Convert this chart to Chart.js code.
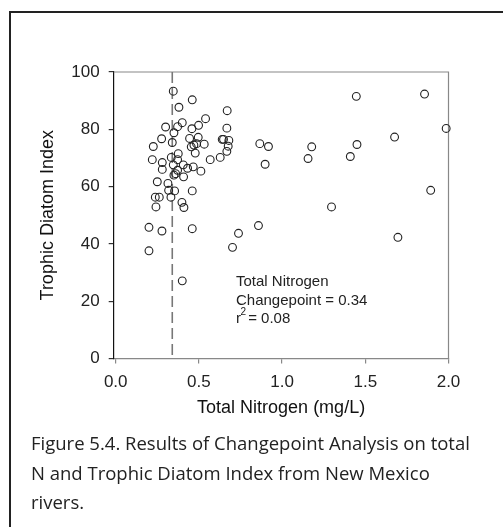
<!DOCTYPE html>
<html>
<head>
<meta charset="utf-8">
<script src="https://cdn.jsdelivr.net/npm/chart.js@4"></script>
<style>
  body { margin: 0; background: #fff; }
  #page { position: relative; width: 503px; height: 527px; overflow: hidden; }
  #frame {
    position: absolute; left: 9px; top: 11px; width: 600px; height: 600px;
    border-left: 2px solid #222; border-top: 2px solid #222;
  }
  #chart { position: absolute; left: 0; top: 0; }
  #caption {
    position: absolute; left: 31px; top: 428px; width: 470px;
    font-family: 'Open Sans', 'Noto Sans', sans-serif; font-size: 18.5px;
    line-height: 29.5px; color: #222; white-space: nowrap;
  }
</style>
</head>
<body>
<div id="page">
  <div id="frame"></div>
  <canvas id="chart" width="503" height="430"></canvas>
  <div id="caption">Figure 5.4. Results of Changepoint Analysis on total<br>N and Trophic Diatom Index from New Mexico<br>rivers.</div>
</div>
<script>
// Total nitrogen (mg/L) and Trophic Diatom Index for each site
const nitrogen = [
  0.346, 0.46, 0.38, 0.670, 0.54, 0.40, 0.498, 0.372, 0.30, 0.458,
  0.668, 0.35, 0.276, 0.444, 0.496, 0.34, 0.640, 0.648, 0.680, 0.226,
  0.454, 0.47, 0.486, 0.532, 0.676, 0.478, 0.376, 0.668, 0.334, 0.628,
  0.220, 0.372, 0.568, 0.28, 0.346, 0.406, 0.466, 0.432, 0.28, 0.372,
  0.512, 0.350, 0.360, 0.408, 0.25, 0.314, 0.318, 0.354, 0.46, 0.332,
  0.238, 0.262, 0.242, 0.398, 0.41, 0.20, 0.278, 0.46, 0.738, 0.702,
  0.20, 0.40, 1.446, 1.856, 1.986, 1.676, 0.866, 0.918, 1.178, 1.45,
  0.898, 1.156, 1.41, 1.893, 1.297, 0.858, 1.696
];
const diatomIndex = [
  93.3, 90.3, 87.7, 86.5, 83.7, 82.3, 81.4, 80.9, 80.8, 80.2,
  80.4, 78.8, 76.7, 76.8, 77.2, 75.4, 76.5, 76.5, 76.1, 74.0,
  73.9, 74.5, 75.0, 74.8, 74.1, 71.7, 71.5, 72.3, 70.2, 70.2,
  69.4, 69.4, 69.4, 68.4, 67.6, 67.6, 66.9, 66.4, 66.0, 65.7,
  65.4, 64.0, 64.5, 63.4, 61.7, 61.1, 58.7, 58.5, 58.5, 56.3,
  56.3, 56.3, 52.9, 54.5, 52.7, 45.8, 44.5, 45.3, 43.7, 38.8,
  37.6, 27.1, 91.5, 92.3, 80.3, 77.3, 75.0, 74.0, 73.9, 74.7,
  67.8, 69.8, 70.5, 58.7, 52.9, 46.4, 42.3
];

const xTicks = [0, 0.5, 1.0, 1.5, 2.0];
const yTicks = [0, 20, 40, 60, 80, 100];

const changepoint = 0.34;
const rSquared = 0.08;

const textFont = "'Liberation Sans', Arial, sans-serif";

// Light frame on the top and right of the plot box
const boxPlugin = {
  id: 'box',
  beforeDatasetsDraw(chart) {
    const { ctx, chartArea: a } = chart;
    ctx.save();
    ctx.strokeStyle = '#888';
    ctx.lineWidth = 1.2;
    ctx.beginPath();
    ctx.moveTo(a.left, a.top);
    ctx.lineTo(a.right, a.top);
    ctx.lineTo(a.right, a.bottom);
    ctx.stroke();
    ctx.restore();
  }
};

// Changepoint summary text inside the plot
const notePlugin = {
  id: 'note',
  afterDraw(chart) {
    const { ctx } = chart;
    const x = 236;
    ctx.save();
    ctx.fillStyle = '#222';
    ctx.textBaseline = 'alphabetic';
    ctx.font = '15px ' + textFont;
    ctx.fillText('Total Nitrogen', x, 286);
    ctx.fillText('Changepoint = ' + changepoint.toFixed(2), x, 304.5);
    ctx.fillText('r', x, 323);
    const rw = ctx.measureText('r').width;
    ctx.fillText(' = ' + rSquared.toFixed(2), x + rw + 3, 323);
    ctx.font = '10px ' + textFont;
    ctx.fillText('2', x + rw - 0.5, 315);
    ctx.restore();
  }
};

new Chart(document.getElementById('chart'), {
  data: {
    datasets: [
      {
        type: 'scatter',
        data: nitrogen.map((n, i) => ({ x: n, y: diatomIndex[i] })),
        clip: false,
        pointStyle: 'circle',
        pointRadius: 3.9,
        pointBorderWidth: 1.1,
        borderColor: '#222',
        backgroundColor: 'rgba(0,0,0,0)'
      },
      {
        type: 'line',
        data: [{ x: changepoint, y: 100 }, { x: changepoint, y: 0 }],
        borderColor: '#777',
        borderWidth: 1.6,
        borderDash: [11, 5],
        pointRadius: 0
      }
    ]
  },
  options: {
    responsive: false,
    devicePixelRatio: 1,
    animation: false,
    events: [],
    layout: { padding: { left: 0, top: 72, right: 54.5, bottom: 0 } },
    plugins: { legend: { display: false }, tooltip: { enabled: false } },
    scales: {
      x: {
        type: 'linear',
        min: -0.012,
        max: 2.0,
        afterFit: s => { s.height = 71.5; },
        afterBuildTicks: s => { s.ticks = xTicks.map(v => ({ value: v })); },
        grid: { drawOnChartArea: false, tickLength: 5, color: '#888', lineWidth: 1.2 },
        border: { color: '#888', width: 1.2 },
        ticks: {
          padding: 9,
          color: '#222',
          maxRotation: 0,
          font: { family: textFont, size: 17 },
          callback: v => v.toFixed(1)
        },
        title: {
          display: true,
          text: 'Total Nitrogen (mg/L)',
          color: '#111',
          font: { family: textFont, size: 18 },
          padding: { top: 0, bottom: 10.7 }
        }
      },
      y: {
        type: 'linear',
        min: 0,
        max: 100,
        afterFit: s => { s.width = 113.7; },
        afterBuildTicks: s => { s.ticks = yTicks.map(v => ({ value: v })); },
        grid: { drawOnChartArea: false, tickLength: 5, color: '#333', lineWidth: 1.2 },
        border: { color: '#111', width: 1.2 },
        ticks: {
          padding: 9,
          color: '#222',
          font: { family: textFont, size: 17 }
        },
        title: {
          display: true,
          text: 'Trophic Diatom Index',
          color: '#111',
          font: { family: textFont, size: 18 },
          padding: { top: 37, bottom: 0 }
        }
      }
    }
  },
  plugins: [boxPlugin, notePlugin]
});
</script>
</body>
</html>
